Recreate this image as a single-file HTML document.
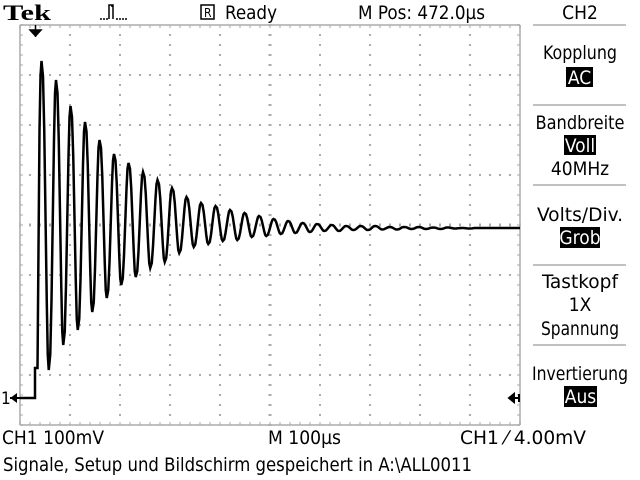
<!DOCTYPE html>
<html><head><meta charset="utf-8"><style>
body{margin:0;background:#fff}
svg{display:block}
text{font-family:"Liberation Sans Narrow","DejaVu Sans Condensed","Liberation Sans",sans-serif;fill:#000}
</style></head><body>
<svg id="scope" width="640" height="480" viewBox="0 0 640 480" xmlns="http://www.w3.org/2000/svg">
<rect width="640" height="480" fill="#fff"/>
<g id="grid"></g>
<text x="3" y="20" font-size="22" font-weight="bold" style="font-family:'Liberation Serif',serif" textLength="48" lengthAdjust="spacingAndGlyphs">Tek</text>
<path d="M100 19h2M103 19h2M106 19h2M109 19V5h4v14M116 19h2M119 19h2M122 19h2M125 19h2M112 5v2" stroke="#000" stroke-width="1.5" fill="none"/>
<rect x="201" y="5" width="13" height="14" fill="none" stroke="#000" stroke-width="1.5"/>
<text x="204" y="17" font-size="12">R</text>
<text x="225" y="19" font-size="19" textLength="52" lengthAdjust="spacingAndGlyphs">Ready</text>
<text x="358" y="19" font-size="19" textLength="127" lengthAdjust="spacingAndGlyphs">M Pos: 472.0µs</text>
<text x="580" y="19" font-size="19" text-anchor="middle">CH2</text>
<g stroke="#c0c0c0" stroke-width="2">
<line x1="533" y1="25" x2="626" y2="25"/><line x1="533" y1="105" x2="626" y2="105"/><line x1="533" y1="185" x2="626" y2="185"/><line x1="533" y1="265" x2="626" y2="265"/><line x1="533" y1="345" x2="626" y2="345"/>
</g>
<g font-size="19" text-anchor="middle">
<text x="580" y="59" textLength="74" lengthAdjust="spacingAndGlyphs">Kopplung</text>
<rect x="566" y="67" width="27" height="20" fill="#000"/>
<text x="579.5" y="84" style="fill:#fff">AC</text>
<text x="580" y="129" textLength="89" lengthAdjust="spacingAndGlyphs">Bandbreite</text>
<rect x="564" y="135" width="32" height="20" fill="#000"/>
<text x="580" y="152" style="fill:#fff">Voll</text>
<text x="580" y="175">40MHz</text>
<text x="580" y="221" textLength="86" lengthAdjust="spacingAndGlyphs">Volts/Div.</text>
<rect x="560" y="227" width="40" height="21" fill="#000"/>
<text x="580" y="244" style="fill:#fff">Grob</text>
<text x="580" y="288" textLength="76" lengthAdjust="spacingAndGlyphs">Tastkopf</text>
<text x="580" y="311">1X</text>
<text x="580" y="335" textLength="78" lengthAdjust="spacingAndGlyphs">Spannung</text>
<text x="580" y="380" textLength="96" lengthAdjust="spacingAndGlyphs">Invertierung</text>
<rect x="564" y="386" width="33" height="21" fill="#000"/>
<text x="580.5" y="403" style="fill:#fff">Aus</text>
</g>
<g font-size="19">
<text x="2" y="444" textLength="102" lengthAdjust="spacingAndGlyphs">CH1  100mV</text>
<text x="268" y="444" textLength="73" lengthAdjust="spacingAndGlyphs">M 100µs</text>
<text x="460" y="444" textLength="126" lengthAdjust="spacingAndGlyphs">CH1 ⁄ 4.00mV</text>
<text x="3" y="471" textLength="469" lengthAdjust="spacingAndGlyphs">Signale, Setup und Bildschirm gespeichert in A:\ALL0011</text>
</g>
<path d="M30 30h11l-5.5 6z M35.5 25v12" stroke="#000" fill="#000" stroke-width="1.5"/>
<text x="1" y="404" font-size="17">1</text>
<path d="M10 398h22M12 398l4-3v6z" stroke="#000" stroke-width="2" fill="#000"/>
<path d="M509 398h10M509 398l5-4v8z M519 394v8" stroke="#000" stroke-width="2" fill="#000"/>
<path id="trace" fill="none" stroke="#000" stroke-width="2.5" stroke-linejoin="miter"/>
</svg>
<script>
// time in µs (100µs/div), voltage in mV (100mV/div) relative to CH1 ground
const startTime = 30;
const firstPeakTime = 44;
const periodUs = 29;
const peakMv = [674,636,584,552,516,488,470,452,436,420,402,390,384,376,370,364,358,354,350,348,346,344,344,344,342,342,342,341,341,340,340,340,340];
const troughMv = [56,106,136,172,200,226,242,260,272,290,302,308,314,316,322,324,328,330,332,334,334,336,336,337,337,338,338,338,339,339,340,340,340];
const gridDivsX = 10, gridDivsY = 8;

const X0=20, X1=520, Y0=25, Y1=425, GND=398;
function xScale(t){return X0 + t*(X1-X0)/1000;}
function yScale(mv){return GND - mv*50/100;}

const ns="http://www.w3.org/2000/svg";
const g=document.getElementById('grid');
function ln(x1,y1,x2,y2,w,c){const l=document.createElementNS(ns,'line');l.setAttribute('x1',x1);l.setAttribute('y1',y1);l.setAttribute('x2',x2);l.setAttribute('y2',y2);l.setAttribute('stroke',c||'#aaaaaa');l.setAttribute('stroke-width',w||1);


g.appendChild(l);}
ln(X0,Y0,X1,Y0,2,'#c0c0c0');ln(X0,Y1,X1,Y1,2,'#c0c0c0');ln(X0,Y0,X0,Y1,2,'#c0c0c0');ln(X1,Y0,X1,Y1,2,'#c0c0c0');
const dx=(X1-X0)/gridDivsX, dy=(Y1-Y0)/gridDivsY;
for(let x=X0;x<=X1;x+=dx/5){ln(x,Y0,x,Y0+3);ln(x,Y1-3,x,Y1);ln(x,225-2,x,225+2);}
for(let y=Y0;y<=Y1;y+=dy/5){ln(X0,y,X0+3,y);ln(X1-3,y,X1,y);ln(270-2,y,270+2,y);}
for(let i=1;i<gridDivsX;i++){const x=X0+i*dx;for(let y=Y0+dy/5;y<Y1;y+=dy/5){ln(x-1,y,x+1,y,2);}}
for(let j=1;j<gridDivsY;j++){const y=Y0+j*dy;for(let x=X0+dx/5;x<X1;x+=dx/5){ln(x-1,y,x+1,y,2);}}

// trace: square-ish oscillation through each extreme
let d=`M${X0} ${yScale(0)} L${xScale(startTime)} ${yScale(0)}`;
d+=` L${xScale(startTime)} ${yScale(60)} L${xScale(startTime+5)} ${yScale(60)} L${xScale(startTime+7)} ${yScale(300)}`;
for(let i=0;i<peakMv.length;i++){
  const tp=firstPeakTime+i*periodUs, tt=tp+periodUs/2;
  const mid=(peakMv[i]+troughMv[i])/2, amp=(peakMv[i]-troughMv[i])/2;
  if(tp>1000)break;
  d+=` L${xScale(tp-5)} ${yScale(mid+amp*0.55)} L${xScale(tp-3)} ${yScale(mid+amp*0.9)} L${xScale(tp-1)} ${yScale(peakMv[i])} L${xScale(tp+2)} ${yScale(mid+amp*0.9)} L${xScale(tp+4.5)} ${yScale(mid+amp*0.55)}`;
  if(tt>1000)break;
  d+=` L${xScale(tt-5)} ${yScale(mid-amp*0.55)} L${xScale(tt-3)} ${yScale(mid-amp*0.9)} L${xScale(tt-1)} ${yScale(troughMv[i])} L${xScale(tt+2)} ${yScale(mid-amp*0.9)} L${xScale(tt+4.5)} ${yScale(mid-amp*0.55)}`;
}
d+=` L${xScale(1000)} ${yScale(340)}`;
document.getElementById('trace').setAttribute('d',d);
</script>
</body></html>
